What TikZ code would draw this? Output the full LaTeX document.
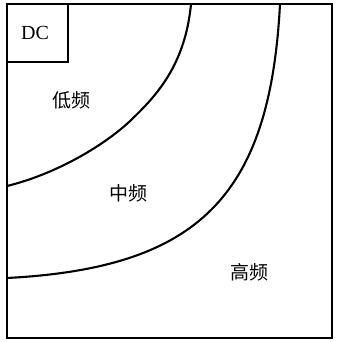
\documentclass[tikz,border=0pt]{standalone}
\usepackage{fontspec}
\setmainfont{Liberation Serif}
\newfontfamily\cjk{Noto Sans CJK SC}
\begin{document}
\begin{tikzpicture}[x=1pt,y=-1pt,
  frame/.style={draw=black,line width=2.1pt},
  band/.style={draw=black,line width=2.1pt},
  zh/.style={font=\cjk\fontsize{19}{22}\selectfont,inner sep=0pt},
  lat/.style={font=\fontsize{20}{22}\selectfont,inner sep=0pt}]
\useasboundingbox (0,0) rectangle (340,342);
\fill[white] (0,0) rectangle (340,342);
\draw[frame] (7,4) rectangle (332,338);
\draw[frame] (7,4) rectangle (68,62);
\node[lat] (dc) at (35,33) {DC};
\coordinate (i0) at (191,4);
\coordinate (im) at (129,122);
\coordinate (i1) at (7,186);
\coordinate (o0) at (280,4);
\coordinate (o1) at (7,278);
\draw[band] (i0) .. controls (185,68) and (153,99) .. (im)
                 .. controls (103,146) and (56,174) .. (i1);
\draw[band] (o0) .. controls (270,196) and (199,268) .. (o1);
\node[zh] (low) at (71,100) {低频};
\node[zh] (mid) at (128,193) {中频};
\node[zh] (high) at (249,272) {高频};
\end{tikzpicture}
\end{document}
